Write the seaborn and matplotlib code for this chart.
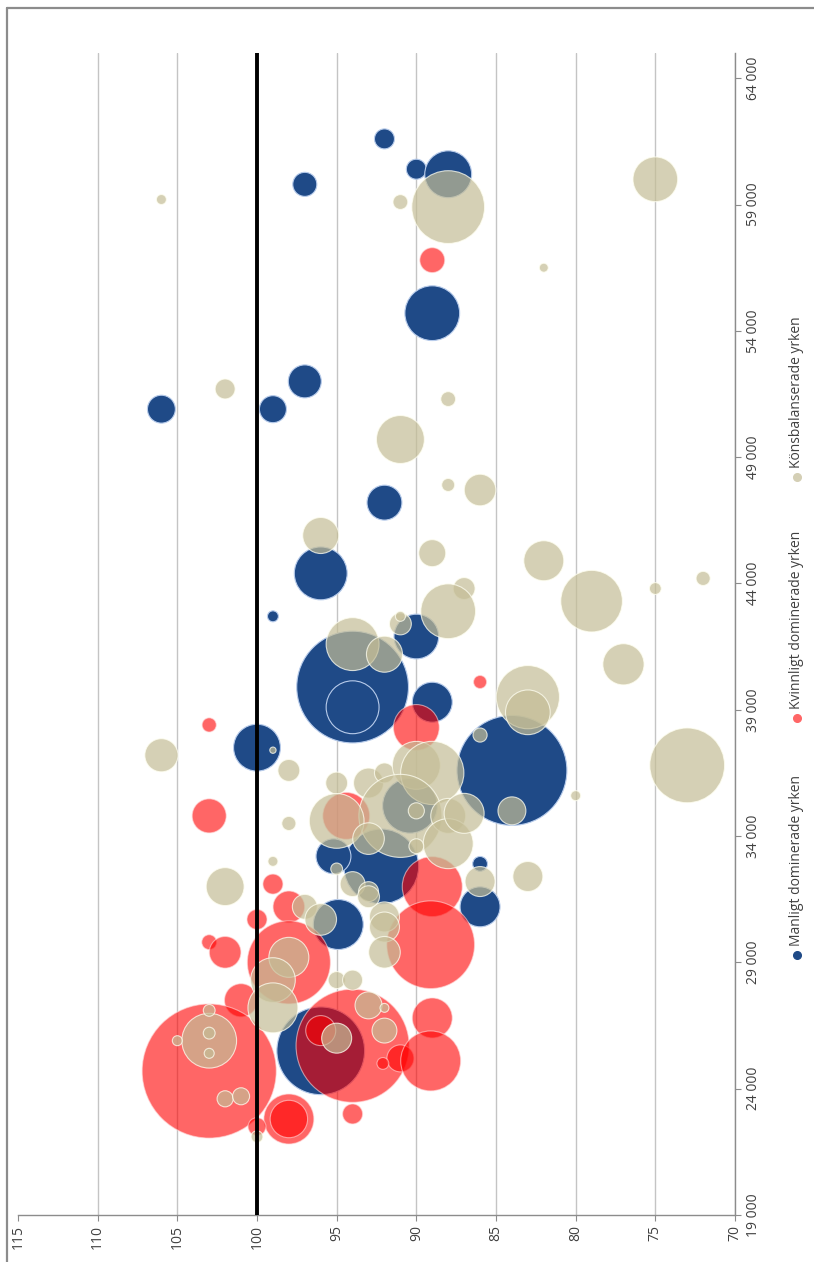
import matplotlib
matplotlib.use("Agg")
import matplotlib.pyplot as plt
import seaborn as sns
import pandas as pd
from matplotlib.lines import Line2D
from matplotlib.ticker import FuncFormatter

# Manligt dominerade yrken
man_kvot = [92.0, 90.0, 88.0, 97.0, 89.0, 106.0, 99.0, 97.0, 92.0, 96.0, 99.0, 90.0,
            94.0, 94.0, 89.0, 100.0, 84.0, 90.4, 92.2, 95.2, 94.9, 86.0, 86.0, 96.0]
man_lon = [61600, 60400, 60200, 59800, 54700, 50900, 50900, 52000, 47200, 44400, 42700, 41900,
           39900, 39100, 39300, 37500, 36600, 35200, 32800, 33200, 30500, 32900, 31200, 25500]
man_antal = [4000, 4000, 22000, 5800, 30000, 7800, 7300, 10900, 12200, 28000, 1200, 20000,
             125000, 28000, 16000, 22000, 121000, 30000, 56000, 12200, 25000, 2200, 16000, 77000]

# Kvinnligt dominerade yrken
kv_kvot = [89.0, 86.0, 90.0, 103.0, 103.0, 94.4, 99.0, 89.0, 89.1, 98.0, 100.0, 103.0, 102.0,
           98.0, 101.0, 103.0, 94.0, 96.0, 91.0, 92.1, 89.0, 89.1, 98.0, 98.0, 94.0, 100.0]
kv_lon = [56800, 40100, 38300, 38400, 34800, 34800, 32100, 32000, 29700, 31200, 30700, 29800, 29400,
          29000, 27500, 24700, 25700, 26300, 25200, 25000, 26800, 25100, 22800, 22800, 23000, 22500]
kv_antal = [6200, 1700, 21000, 2000, 11600, 22000, 4000, 36000, 77000, 10000, 4000, 2200, 10000,
            69000, 11000, 180000, 128000, 9000, 7300, 1400, 16000, 36000, 25000, 14000, 4000, 3200]

# Könsbalanserade yrken
kb_kvot = [106.0, 91.0, 88.0, 75.0, 82.0, 88.0, 102.0, 91.0, 88.0, 86.0, 96.0, 89.0, 82.0, 79.0,
           75.0, 72.0, 87.0, 88.0, 94.0, 92.0, 91.0, 91.0, 77.0, 83.0, 83.0, 86.0, 99.0, 106.0,
           98.0, 73.0, 80.0, 84.0, 98.0, 95.0, 93.0, 92.0, 90.0, 89.0, 91.0, 95.0, 90.0, 88.0,
           88.0, 87.0, 93.0, 90.0, 94.0, 95.0, 93.0, 86.0, 83.0, 102.0, 99.0, 92.0, 97.0, 96.0,
           93.0, 92.0, 92.0, 98.0, 99.0, 99.0, 95.0, 94.0, 93.0, 92.0, 92.0, 95.0, 103.0, 103.0,
           103.0, 103.0, 105.0, 102.0, 101.0, 100.0]
kb_lon = [59200, 59100, 58900, 60000, 56500, 51300, 51700, 49700, 47900, 47700, 45900, 45200,
          44900, 43300, 43800, 44200, 43800, 42900, 41600, 41200, 42400, 42700, 40800, 39500,
          38900, 38000, 37400, 37200, 36600, 36800, 35600, 35000, 34500, 36100, 36100, 36500,
          36800, 36500, 34800, 34600, 35000, 34800, 33700, 34900, 33900, 33600, 32100, 32700,
          31800, 32200, 32400, 32000, 33000, 30800, 31200, 30700, 31600, 30400, 29400, 29200,
          28300, 27200, 28300, 28300, 27300, 27200, 26300, 26000, 25900, 27100, 26200, 25400,
          25900, 23600, 23700, 22100]
kb_antal = [1000, 2200, 53000, 20000, 800, 2200, 4000, 23000, 1700, 10000, 13000, 7300, 16000,
            38000, 1400, 2000, 4800, 30000, 28000, 13000, 4800, 1000, 17000, 40000, 20000, 2000,
            400, 11000, 4800, 56000, 1000, 7800, 2000, 4800, 9000, 4000, 23000, 40000, 69000,
            30000, 2600, 12200, 25000, 16000, 10000, 2200, 6200, 1400, 4000, 9000, 9000, 14400,
            1000, 9000, 6200, 10000, 4800, 9000, 10000, 16000, 20000, 25000, 2900, 4000, 7300,
            800, 6200, 9000, 30000, 1400, 1400, 1000, 1000, 2600, 2900, 1400]

labels = ["Manligt dominerade yrken", "Kvinnligt dominerade yrken", "Könsbalanserade yrken"]

blue = (0.12, 0.29, 0.53, 1.0)
red = (1.0, 0.0, 0.0, 0.6)
beige = (0.77, 0.74, 0.59, 0.7)

df_man = pd.DataFrame({"kvot": man_kvot, "lon": man_lon, "antal": man_antal})
df_kv = pd.DataFrame({"kvot": kv_kvot, "lon": kv_lon, "antal": kv_antal})
df_kb = pd.DataFrame({"kvot": kb_kvot, "lon": kb_lon, "antal": kb_antal})

sns.set_theme(style="white")
plt.rcParams["font.family"] = ["Open Sans", "DejaVu Sans"]

fig = plt.figure(figsize=(8.14, 12.62), dpi=100)
ax = fig.add_axes([18 / 814, 1 - 1215 / 1262, (735 - 18) / 814, (1215 - 53) / 1262])

vmax = max(man_antal + kv_antal + kb_antal)
smax = vmax * 0.0518  # points^2 per employee

for df, col, edge in [(df_man, blue, (0.72, 0.80, 0.92, 1.0)),
                      (df_kv, red, (1.0, 0.85, 0.85, 0.6)),
                      (df_kb, beige, (1.0, 1.0, 0.95, 0.75))]:
    sns.scatterplot(data=df, x="kvot", y="lon", size="antal", sizes=(0, smax),
                    size_norm=(0, vmax), color=col, edgecolor=edge, linewidth=0.8,
                    legend=False, ax=ax, zorder=3)

ax.axvline(100, color="black", lw=2.8, zorder=6)

ax.set_xlim(115, 70)
ax.set_ylim(19000, 65000)
ax.set_xticks(range(70, 116, 5))
ax.set_yticks(range(19000, 64001, 5000))
ax.yaxis.tick_right()
ax.yaxis.set_major_formatter(FuncFormatter(lambda v, p: f"{int(v):,}".replace(",", " ")))
ax.set_xlabel("")
ax.set_ylabel("")

ax.grid(axis="x", color="#c4c4c4", lw=1.0)
ax.xaxis.get_gridlines()[-1].set_visible(False)
ax.set_axisbelow(True)

for side in ["left", "top"]:
    ax.spines[side].set_visible(False)
for side in ["bottom", "right"]:
    ax.spines[side].set_color("#8c8c8c")
    ax.spines[side].set_linewidth(1.0)

ax.tick_params(axis="x", bottom=True, labelrotation=90, length=4, width=0.8,
               color="#8c8c8c", labelsize=10, labelcolor="#404040", pad=3)
ax.tick_params(axis="y", right=True, left=False, labelrotation=90, length=4, width=0.8,
               color="#8c8c8c", labelsize=10, labelcolor="#404040", pad=4)
for lbl in ax.get_yticklabels():
    lbl.set_va("center")

# outer frame (cut at right and bottom)
fig.add_artist(Line2D([6.5 / 814, 6.5 / 814], [0, 1 - 7.5 / 1262], color="#8c8c8c", lw=1.6,
                      transform=fig.transFigure))
fig.add_artist(Line2D([6.5 / 814, 1], [1 - 7.5 / 1262, 1 - 7.5 / 1262], color="#8c8c8c", lw=1.6,
                      transform=fig.transFigure))

# legend, rotated like the rest of the chart
leg_cols = [blue, (1.0, 0.4, 0.4, 1.0), (0.83, 0.81, 0.71, 1.0)]
leg_y = [955, 718, 477]
for lab, col, yy in zip(labels, leg_cols, leg_y):
    fig.add_artist(Line2D([797 / 814], [1 - yy / 1262], marker="o", ms=5.5, color=col, ls="none",
                          transform=fig.transFigure))
    fig.text(797 / 814, 1 - (yy - 9) / 1262, lab, rotation=90, ha="center", va="bottom",
             fontsize=10, color="#404040")

fig.savefig("out.png", dpi=100)
